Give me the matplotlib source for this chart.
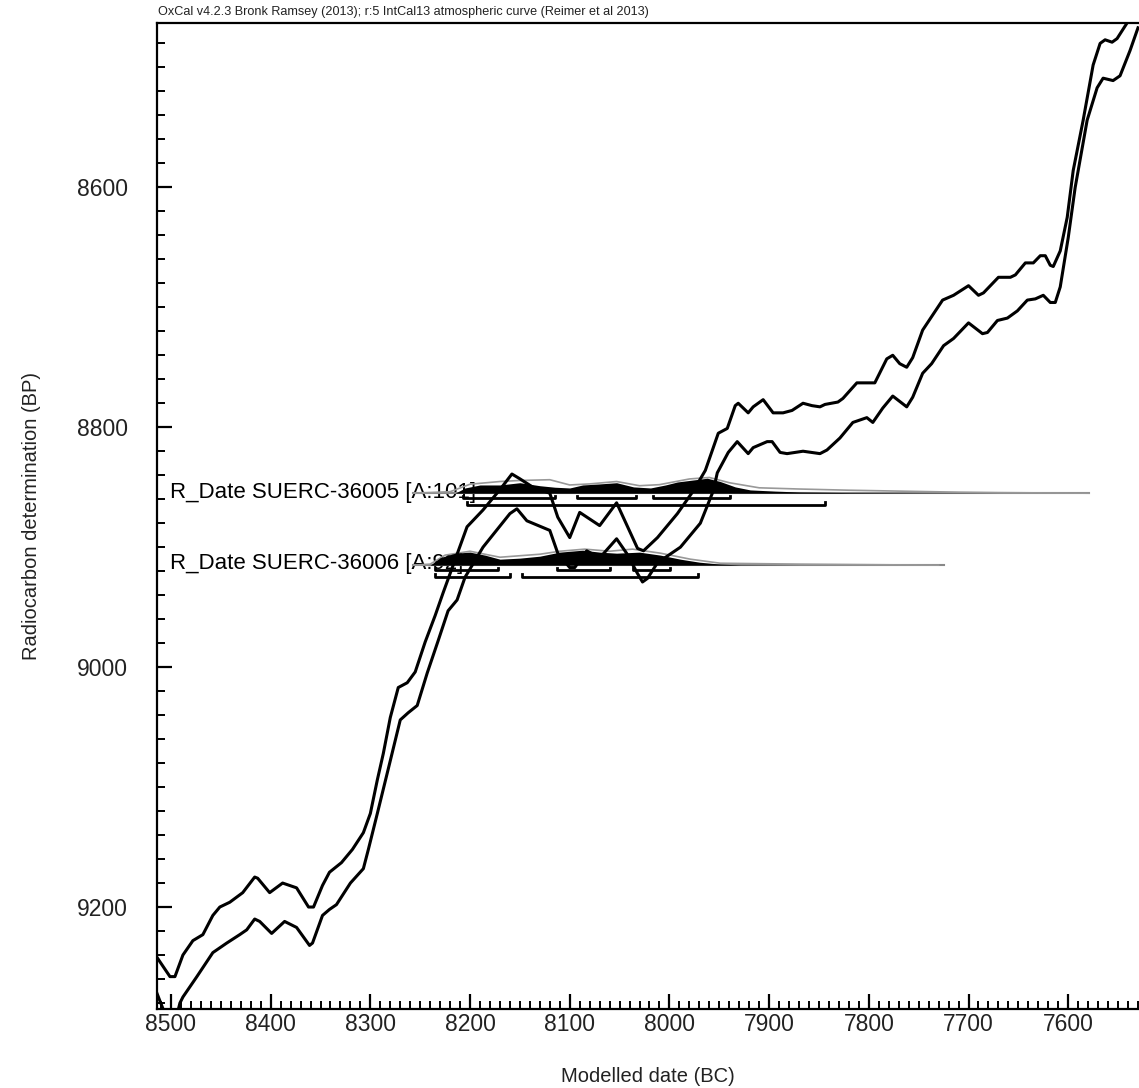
import numpy as np
import matplotlib.pyplot as plt
from matplotlib.ticker import MultipleLocator

plt.rcParams['font.family'] = ['Liberation Sans', 'DejaVu Sans']

# IntCal13 1-sigma envelope, upper bound (lower BP) and lower bound (higher BP)
upper_year = [8514, 8501, 8496, 8488, 8478, 8468, 8458, 8451, 8441, 8428, 8416, 8413,
              8401, 8388, 8374, 8362, 8357, 8348, 8341, 8329, 8318, 8307, 8300, 8293,
              8287, 8280, 8272, 8263, 8255, 8245, 8235, 8227, 8220, 8203, 8187, 8170,
              8158, 8150, 8137, 8120, 8112, 8100, 8090, 8070, 8053, 8032, 8026, 8012,
              7992, 7976, 7964, 7951, 7942, 7934, 7931, 7921, 7916, 7906, 7896, 7886,
              7877, 7866, 7857, 7849, 7844, 7831, 7826, 7812, 7801, 7794, 7782, 7776,
              7769, 7762, 7756, 7746, 7738, 7726, 7715, 7700, 7690, 7685, 7670, 7658,
              7653, 7643, 7635, 7628, 7623, 7618, 7615, 7608, 7601, 7595, 7585, 7575,
              7568, 7563, 7556, 7551, 7541, 7529]
upper_bp = [9242, 9258, 9258, 9240, 9228, 9223, 9207, 9200, 9196, 9188, 9175, 9176,
            9188, 9180, 9184, 9200, 9200, 9182, 9171, 9163, 9152, 9138, 9122, 9094,
            9072, 9042, 9017, 9013, 9004, 8979, 8957, 8938, 8922, 8883, 8869, 8852,
            8839, 8843, 8850, 8855, 8875, 8892, 8871, 8882, 8863, 8901, 8903, 8892,
            8872, 8853, 8836, 8805, 8801, 8782, 8780, 8788, 8783, 8777, 8788, 8788,
            8786, 8780, 8782, 8783, 8781, 8779, 8776, 8763, 8763, 8763, 8743, 8740,
            8747, 8750, 8742, 8719, 8709, 8694, 8690, 8682, 8690, 8688, 8675, 8675,
            8673, 8663, 8663, 8657, 8657, 8665, 8666, 8653, 8625, 8586, 8544, 8498,
            8480, 8477, 8479, 8476, 8463, 8448]

lower_year = [8514, 8507, 8500, 8494, 8491, 8488, 8474, 8458, 8444, 8431, 8424, 8416,
              8411, 8399, 8386, 8374, 8361, 8358, 8348, 8341, 8334, 8320, 8307, 8302,
              8293, 8280, 8270, 8262, 8253, 8243, 8232, 8222, 8213, 8205, 8187, 8160,
              8153, 8143, 8120, 8112, 8100, 8095, 8083, 8070, 8053, 8043, 8032, 8027,
              8022, 8012, 7989, 7969, 7956, 7952, 7941, 7932, 7921, 7916, 7902, 7897,
              7889, 7882, 7866, 7849, 7842, 7829, 7816, 7802, 7796, 7786, 7776, 7762,
              7756, 7746, 7737, 7725, 7715, 7700, 7686, 7681, 7671, 7661, 7651, 7641,
              7633, 7625, 7618, 7613, 7608, 7600, 7593, 7581, 7571, 7565, 7555, 7548,
              7538, 7530]
lower_bp = [9272, 9287, 9300, 9290, 9280, 9275, 9258, 9238, 9230, 9223, 9219, 9210,
            9212, 9222, 9212, 9217, 9232, 9230, 9207, 9202, 9198, 9180, 9168, 9152,
            9122, 9078, 9044, 9038, 9032, 9005, 8978, 8953, 8944, 8925, 8900, 8872,
            8868, 8878, 8886, 8905, 8917, 8917, 8903, 8909, 8893, 8905, 8922, 8929,
            8926, 8913, 8900, 8880, 8853, 8838, 8821, 8812, 8822, 8817, 8812, 8812,
            8821, 8822, 8820, 8822, 8819, 8809, 8796, 8792, 8796, 8784, 8774, 8783,
            8775, 8755, 8747, 8732, 8726, 8713, 8722, 8721, 8711, 8709, 8703, 8694,
            8693, 8690, 8696, 8696, 8683, 8642, 8600, 8544, 8517, 8509, 8511, 8507,
            8486, 8467]

# R_Date entries
labels = ['R_Date SUERC-36005 [A:101]', 'R_Date SUERC-36006 [A:92]']
c14_bp = [8855, 8915]
line_span = [(8257, 7579), (8257, 7725)]

post_year = [
    [8215, 8205, 8190, 8170, 8150, 8130, 8115, 8100, 8087, 8070, 8053, 8036, 8019,
     8004, 7992, 7974, 7962, 7949, 7934, 7919, 7894, 7869, 7819, 7749, 7668],
    [8240, 8230, 8215, 8200, 8185, 8170, 8150, 8130, 8110, 8087, 8070, 8053, 8030,
     8009, 7989, 7970, 7949, 7929, 7869],
]
post_prob = [
    [0, 0.35, 0.55, 0.55, 0.7, 0.5, 0.4, 0.35, 0.55, 0.62, 0.7, 0.42, 0.35,
     0.55, 0.75, 0.9, 1.0, 0.78, 0.42, 0.22, 0.14, 0.08, 0.04, 0.02, 0],
    [0, 0.5, 0.8, 0.87, 0.67, 0.4, 0.47, 0.6, 0.87, 1.0, 0.87, 0.8, 0.87,
     0.67, 0.4, 0.2, 0.07, 0.02, 0],
]
like_year = [
    [8257, 8220, 8200, 8170, 8150, 8120, 8100, 8080, 8053, 8030, 8010, 7980, 7960,
     7940, 7910, 7870, 7820, 7770, 7710, 7670, 7579],
    [8257, 8240, 8225, 8200, 8170, 8130, 8110, 8085, 8060, 8037, 8009, 7979, 7949,
     7869, 7730],
]
like_prob = [
    [0, 0.1, 0.6, 0.78, 0.85, 0.9, 0.55, 0.62, 0.78, 0.5, 0.57, 0.95, 1.05,
     0.7, 0.36, 0.28, 0.2, 0.14, 0.07, 0.04, 0],
    [0, 0.07, 0.67, 0.93, 0.53, 0.73, 0.93, 1.07, 0.93, 1.07, 0.8, 0.4, 0.13,
     0.07, 0],
]
# highest posterior density ranges
range68 = [
    [(8207, 8115), (8093, 8034), (8016, 7939)],
    [(8235, 8172), (8113, 8060), (8037, 7999)],
]
range95 = [
    [(8203, 7844)],
    [(8235, 8160), (8148, 7971)],
]

fig = plt.figure(figsize=(11.39, 10.88), dpi=100)
ax = fig.add_axes([157 / 1139, 1 - 1009 / 1088, 982 / 1139, 986 / 1088])

dist_h = 12.5
for i in range(2):
    base = c14_bp[i]
    ax.text(8501, base - 1, labels[i], fontsize=16, va='center', ha='left', zorder=1)
    ax.plot(line_span[i], [base, base], color='#888888', lw=1.5, zorder=2)
    ly = np.array(like_year[i])
    lp = np.array(like_prob[i])
    ax.plot(ly, base - lp * dist_h, color='#999999', lw=1.2, zorder=3)
    py = np.array(post_year[i])
    pp = np.array(post_prob[i])
    ax.fill_between(py, base, base - pp * dist_h, color='black', lw=0, zorder=3)
    for a, b in range68[i]:
        yb = base + 4
        ax.plot([a, a, b, b], [yb - 2, yb, yb, yb - 2], color='black', lw=2, zorder=4)
    for a, b in range95[i]:
        yb = base + 9.5
        ax.plot([a, a, b, b], [yb - 2, yb, yb, yb - 2], color='black', lw=2, zorder=4)

ax.plot(upper_year, upper_bp, color='black', lw=2.2, zorder=5)
ax.plot(lower_year, lower_bp, color='black', lw=2.2, zorder=5)

ax.set_xlim(8514, 7529)
ax.set_ylim(9285, 8463)

ax.xaxis.set_major_locator(MultipleLocator(100))
ax.xaxis.set_minor_locator(MultipleLocator(10))
ax.yaxis.set_major_locator(MultipleLocator(200))
ax.yaxis.set_minor_locator(MultipleLocator(20))
ax.tick_params(which='major', direction='in', length=11, width=1.6, labelsize=16.5,
               labelcolor='#222222')
ax.tick_params(which='minor', direction='in', length=5.5, width=1.4)
ax.tick_params(axis='x', pad=3)
ax.tick_params(axis='y', pad=21)
ax.spines['right'].set_visible(False)
for s in ['left', 'bottom', 'top']:
    ax.spines[s].set_linewidth(1.6)

ax.set_xlabel('Modelled date (BC)', fontsize=14.5, labelpad=22, color='#222222')
ax.set_ylabel('Radiocarbon determination (BP)', fontsize=14.5, labelpad=26, color='#222222')

fig.text(158 / 1139, 1 - 12 / 1088, 'OxCal v4.2.3 Bronk Ramsey (2013); r:5 IntCal13 atmospheric curve (Reimer et al 2013)',
         fontsize=9.1, va='center', ha='left', color='#222222')

fig.savefig('out.png', dpi=100)
